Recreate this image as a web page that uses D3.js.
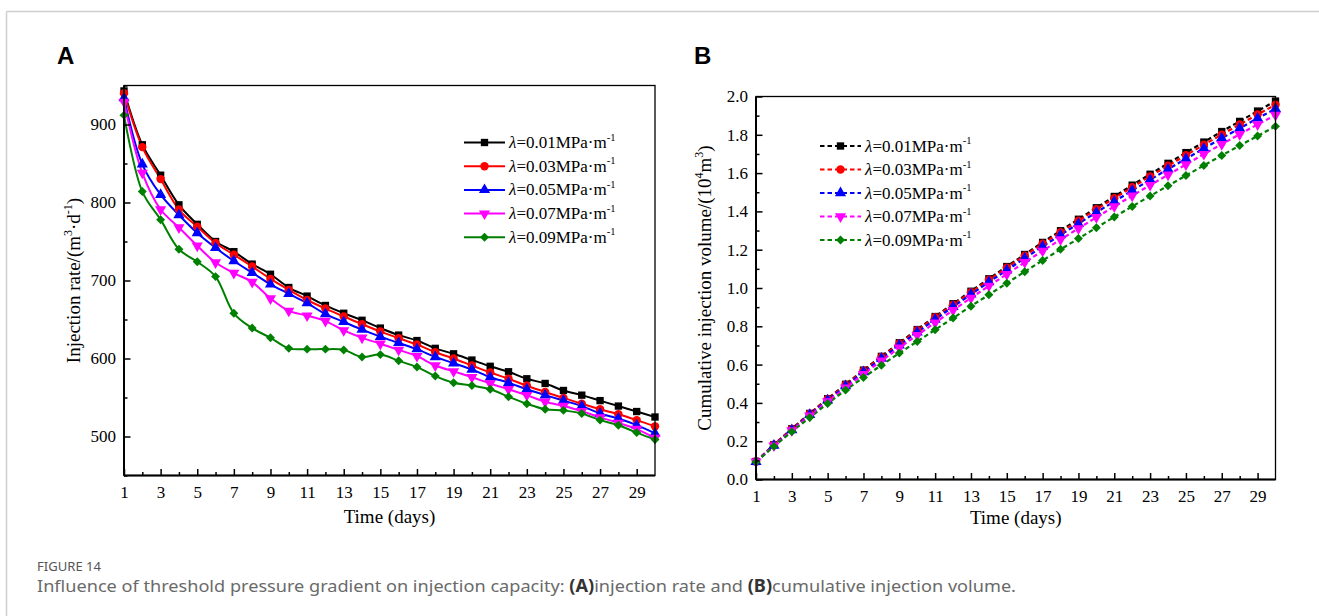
<!DOCTYPE html>
<html><head><meta charset="utf-8">
<script src="https://cdn.jsdelivr.net/npm/d3@7"></script>
<style>
html,body{margin:0;padding:0;background:#fff;}
svg{display:block;}
</style></head>
<body>
<svg id="c" width="1319" height="616"></svg>
<script>
// ---------- DATA ----------
const days = d3.range(1, 31);
const seriesNames = ["0.01", "0.03", "0.05", "0.07", "0.09"];
const seriesColors = ["#000000", "#ff0000", "#0000ff", "#ff00ff", "#008000"];
const rateTicks = [500, 600, 700, 800, 900];
const volTicks = [0.0, 0.2, 0.4, 0.6, 0.8, 1.0, 1.2, 1.4, 1.6, 1.8, 2.0];
const dayTickLabels = [1,3,5,7,9,11,13,15,17,19,21,23,25,27,29];

const rate001 = [943,874,835,797,772,750,737,721,708,691,680,668,658,649,639,630,623,613,606,598,590,583,574,568,559,553,546,539,532,525];
const rate003 = [940,871,830,791,769,748,733,718,702,688,675,664,654,644,634.5,626,618,608,600,591,582,574,565,557,549.5,542,535,528.5,521,513];
const rate005 = [934,849,810,784,761,742,725,710,695,683,671,657,647,637,628,620,612,602,594,586,576,569,560.5,553,546,539,529.5,523,514.5,504];
const rate007 = [929,838,791,768,744.5,723,709.5,698,677,661,655,648,636,626.5,619,611,603,591,583.5,576,568,560.5,553,544.5,539,532.5,524.5,517.5,509.5,498];
const rate009 = [912,814,778,740,724,705,658,639,626.5,613,612,612,611,602,605,597,589,577.5,569,565.5,560.5,551,542,535,533.5,529.5,521,514.5,505,496];

const vol001 = [0.094,0.182,0.265,0.345,0.422,0.497,0.571,0.643,0.714,0.783,0.851,0.918,0.983,1.048,1.112,1.175,1.238,1.299,1.359,1.419,1.478,1.537,1.594,1.651,1.707,1.762,1.817,1.870,1.924,1.976];
const vol003 = [0.094,0.181,0.264,0.343,0.420,0.495,0.568,0.640,0.710,0.779,0.847,0.913,0.978,1.043,1.106,1.169,1.231,1.291,1.351,1.411,1.469,1.526,1.583,1.638,1.693,1.748,1.801,1.854,1.906,1.957];
const vol005 = [0.093,0.178,0.259,0.338,0.414,0.488,0.561,0.632,0.701,0.769,0.836,0.902,0.967,1.031,1.093,1.155,1.217,1.277,1.336,1.395,1.452,1.509,1.565,1.621,1.675,1.729,1.782,1.834,1.886,1.936];
const vol007 = [0.093,0.177,0.256,0.333,0.407,0.479,0.550,0.620,0.688,0.754,0.819,0.884,0.948,1.011,1.072,1.134,1.194,1.253,1.311,1.369,1.426,1.482,1.537,1.591,1.645,1.699,1.751,1.803,1.854,1.903];
const vol009 = [0.091,0.173,0.250,0.324,0.397,0.467,0.533,0.597,0.660,0.721,0.782,0.843,0.905,0.965,1.025,1.085,1.144,1.202,1.258,1.315,1.371,1.426,1.480,1.534,1.587,1.640,1.692,1.744,1.794,1.844];

const rateSeries = [rate001, rate003, rate005, rate007, rate009];
const volSeries = [vol001, vol003, vol005, vol007, vol009];

// ---------- DRAW ----------
const svg = d3.select("#c");
const serif = "'Liberation Serif','Times New Roman',serif";

// outer frame
svg.append("line").attr("x1",6.5).attr("x2",1319).attr("y1",11.5).attr("y2",11.5).attr("stroke","#cfcfcf").attr("stroke-width",1.5);
svg.append("line").attr("x1",6.5).attr("x2",6.5).attr("y1",11.5).attr("y2",616).attr("stroke","#cfcfcf").attr("stroke-width",1.5);

function markerPath(i, size){
  const types = [d3.symbolSquare, d3.symbolCircle, d3.symbolTriangle, d3.symbolTriangle, d3.symbolSquare];
  return d3.symbol().type(types[i]).size(size)();
}
function markerTransform(i, x, y){
  if (i === 3) return `translate(${x},${y}) rotate(180)`;
  if (i === 4) return `translate(${x},${y}) rotate(45)`;
  return `translate(${x},${y})`;
}
function markerSize(i){ return [54, 56, 54, 54, 40][i]; }
const isMajor = (arr, d) => arr.some(m => Math.abs(m - d) < 1e-9);

function addLegendText(g, x, y, name){
  const t = g.append("text").attr("x", x).attr("y", y).attr("font-family", serif).attr("font-size", 17).attr("fill","#000");
  t.append("tspan").attr("font-style","italic").text("λ");
  t.append("tspan").text("=" + name + "MPa·m");
  t.append("tspan").attr("font-size", 10.5).attr("dy", -7.5).text("-1");
}

function panel(opts){
  const {left, top, right, bottom, yDomain, yMajor, yMinorStep, yFmt, data, curve, dashed, legendX, legendY0, legendDy, yLabel, letter, letterX, xTitleDy} = opts;
  const g = svg.append("g");
  const x = d3.scaleLinear().domain([1,30]).range([left, right]);
  const y = d3.scaleLinear().domain(yDomain).range([bottom, top]);

  // panel letter
  svg.append("text").attr("x", letterX).attr("y", 64).attr("font-family","'Liberation Sans',Arial,sans-serif")
    .attr("font-weight","bold").attr("font-size", 24).text(letter);

  // clip
  const cid = "clip" + letter;
  svg.append("clipPath").attr("id", cid).append("rect").attr("x", left).attr("y", top).attr("width", right-left).attr("height", bottom-top);

  // series
  const lineGen = d3.line().x((d,i)=>x(days[i])).y(d=>y(d)).curve(curve);
  const sg = g.append("g").attr("clip-path", `url(#${cid})`);
  data.forEach((arr, si) => {
    sg.append("path").attr("d", lineGen(arr)).attr("fill","none").attr("stroke", seriesColors[si])
      .attr("stroke-width", dashed ? 2.2 : 2).attr("stroke-dasharray", dashed ? "4.5,3" : null);
  });
  data.forEach((arr, si) => {
    arr.forEach((v, i) => {
      g.append("path").attr("d", markerPath(si, markerSize(si))).attr("transform", markerTransform(si, x(days[i]), y(v)))
        .attr("fill", seriesColors[si]);
    });
  });

  // axes (ticks inward)
  const xAxis = d3.axisBottom(x).tickValues(days.filter(d => d < 30)).tickSize(-6).tickPadding(10)
    .tickFormat(d => dayTickLabels.includes(d) ? d : "");
  const gx = g.append("g").attr("transform", `translate(0,${bottom})`).call(xAxis);
  gx.selectAll(".tick line").attr("y2", d => dayTickLabels.includes(d) ? -6.5 : -3.5).attr("stroke-width", 1.5);
  gx.select(".domain").remove();
  gx.selectAll("text").attr("font-family", serif).attr("font-size", 17).attr("fill","#000");

  const nSteps = Math.round((yDomain[1] - yDomain[0]) / yMinorStep);
  const yVals = d3.range(0, nSteps + 1).map(k => yDomain[0] + k * yMinorStep);
  const yAxis = d3.axisLeft(y).tickValues(yVals).tickSize(-6).tickPadding(8)
    .tickFormat(d => isMajor(yMajor, d) ? yFmt(d) : "");
  const gy = g.append("g").attr("transform", `translate(${left},0)`).call(yAxis);
  gy.selectAll(".tick line").attr("x2", d => isMajor(yMajor, d) ? 6.5 : 3.5).attr("stroke-width", 1.5);
  gy.select(".domain").remove();
  gy.selectAll("text").attr("font-family", serif).attr("font-size", 17).attr("fill","#000");

  // frame
  g.append("rect").attr("x", left).attr("y", top).attr("width", right-left).attr("height", bottom-top)
    .attr("fill","none").attr("stroke","#000").attr("stroke-width", 1.3);
  g.append("line").attr("x1", left).attr("x2", right).attr("y1", bottom).attr("y2", bottom).attr("stroke","#000").attr("stroke-width", 2);
  g.append("line").attr("x1", left).attr("x2", left).attr("y1", top).attr("y2", bottom).attr("stroke","#000").attr("stroke-width", 2);

  // x title
  g.append("text").attr("x", (left+right)/2).attr("y", bottom + xTitleDy).attr("text-anchor","middle")
    .attr("font-family", serif).attr("font-size", 19).text("Time (days)");

  // y title
  const yt = g.append("text").attr("transform", `translate(${yLabel.x},${(top+bottom)/2}) rotate(-90)`).attr("text-anchor","middle")
    .attr("font-family", serif).attr("font-size", 19);
  yLabel.parts.forEach(p => {
    if (p.sup) yt.append("tspan").attr("font-size", 12).attr("dy", -8).text(p.t);
    else yt.append("tspan").attr("dy", p.after ? 8 : 0).text(p.t);
  });

  // legend
  const lg = g.append("g");
  seriesNames.forEach((n, si) => {
    const ly = legendY0 + si * legendDy;
    lg.append("line").attr("x1", legendX).attr("x2", legendX + 41).attr("y1", ly).attr("y2", ly)
      .attr("stroke", seriesColors[si]).attr("stroke-width", 2).attr("stroke-dasharray", dashed ? "4.5,3" : null);
    lg.append("path").attr("d", markerPath(si, markerSize(si))).attr("transform", markerTransform(si, legendX + 20.5, ly)).attr("fill", seriesColors[si]);
    addLegendText(lg, legendX + 45, ly + 5.5, n);
  });
}

panel({left:124, top:85.5, right:655, bottom:475.5, yDomain:[450,950], yMajor:rateTicks, yMinorStep:50,
  yFmt: d3.format("d"), data: rateSeries, curve: d3.curveCatmullRom.alpha(0.5), dashed:false,
  legendX:464, legendY0:142.5, legendDy:23.7, letter:"A", letterX:57, xTitleDy:47,
  yLabel:{x:80, parts:[{t:"Injection rate/(m"},{t:"3",sup:true},{t:"·d",after:true},{t:"-1",sup:true},{t:")",after:true}]}});

panel({left:756, top:96.5, right:1275.5, bottom:479.5, yDomain:[0,2.0], yMajor:volTicks, yMinorStep:0.1,
  yFmt: d3.format(".1f"), data: volSeries, curve: d3.curveLinear, dashed:true,
  legendX:820, legendY0:146, legendDy:23.5, letter:"B", letterX:694, xTitleDy:44,
  yLabel:{x:711, parts:[{t:"Cumulative injection volume/(10"},{t:"4",sup:true},{t:"m",after:true},{t:"3",sup:true},{t:")",after:true}]}});

// caption
const capFont = "'Noto Sans','Open Sans',sans-serif";
svg.append("text").attr("x", 37).attr("y", 571).attr("font-family", capFont).attr("font-size", 12.5)
  .attr("textLength", 64).attr("lengthAdjust","spacingAndGlyphs").attr("fill","#555").text("FIGURE 14");
const cap = svg.append("text").attr("x", 37).attr("y", 592).attr("font-family", capFont).attr("font-size", 17)
  .attr("textLength", 979).attr("lengthAdjust","spacingAndGlyphs").attr("fill","#6a6a6a");
cap.append("tspan").text("Influence of threshold pressure gradient on injection capacity: ");
cap.append("tspan").attr("font-weight","bold").attr("fill","#333").text("(A)");
cap.append("tspan").text("injection rate and ");
cap.append("tspan").attr("font-weight","bold").attr("fill","#333").text("(B)");
cap.append("tspan").text("cumulative injection volume.");
</script>
</body></html>
